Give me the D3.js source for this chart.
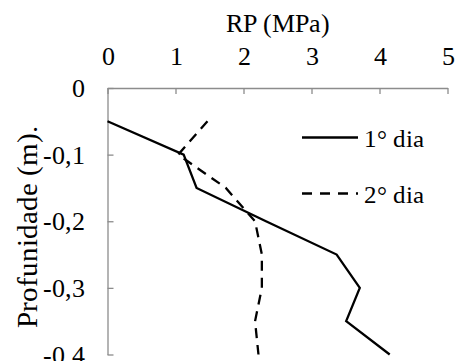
<!DOCTYPE html>
<html><head><meta charset="utf-8">
<script src="https://cdn.jsdelivr.net/npm/d3@7"></script>
<style>
@font-face { font-family: 'ChartSerif'; src: local('Liberation Serif'), local('LiberationSerif'), local('Liberation Serif Regular'), local('LiberationSerif-Regular'); }
body { margin: 0; font-family: 'ChartSerif', 'Liberation Serif', 'Times New Roman', serif; }
</style>
</head><body><div id="chart"></div>
<script>
const depths = [-0.05, -0.1, -0.15, -0.2, -0.25, -0.3, -0.35, -0.4];
const dia1 = [0, 1.12, 1.31, 2.33, 3.37, 3.71, 3.51, 4.15];
const dia2 = [1.47, 1.04, 1.74, 2.17, 2.27, 2.27, 2.17, 2.22];
const xTicks = [0, 1, 2, 3, 4, 5];
const yTicks = [0, -0.1, -0.2, -0.3, -0.4];
const seriesNames = ["1° dia", "2° dia"];

const FF = "'ChartSerif', 'Liberation Serif', 'Times New Roman', serif";
const W = 455, H = 361;
const svg = d3.select("#chart").append("svg").attr("width", W).attr("height", H)
  .style("display", "block").style("font-family", FF);
const x = d3.scaleLinear().domain([0, 5]).range([107.5, 447.5]);
const y = d3.scaleLinear().domain([0, -0.4]).range([88, 354.5]);
const axisColor = "#8c8c8c";
const serif = sel => sel.style("font-family", FF);

// titles
svg.append("text").attr("x", 278).attr("y", 32).attr("text-anchor", "middle")
  .call(serif).attr("font-size", 26).text("RP (MPa)");
svg.append("text").attr("transform", "translate(37,227) rotate(-90)").attr("text-anchor", "middle")
  .call(serif).attr("font-size", 29).text("Profunidade (m).");

// top axis
const xAxis = svg.append("g").attr("transform", `translate(0,${y(0)})`)
  .call(d3.axisTop(x).tickValues(xTicks).tickSizeInner(-6).tickSizeOuter(0).tickFormat(d3.format("d")));
xAxis.attr("font-family", null).attr("font-size", null);
xAxis.select(".domain").attr("stroke", axisColor).attr("stroke-width", 1.3);
xAxis.selectAll(".tick line").attr("stroke", axisColor).attr("stroke-width", 1.3);
xAxis.selectAll(".tick text").call(serif).attr("font-size", 26).attr("fill", "#000")
  .attr("y", -23).attr("dy", 0);

// left axis
const fmtY = d => d === 0 ? "0" : d3.format(".1f")(d).replace(".", ",").replace("−", "-");
const yAxis = svg.append("g").attr("transform", `translate(${x(0)},0)`)
  .call(d3.axisLeft(y).tickValues(yTicks).tickSizeInner(-6).tickSizeOuter(0).tickFormat(fmtY));
yAxis.attr("font-family", null).attr("font-size", null);
yAxis.select(".domain").attr("stroke", axisColor).attr("stroke-width", 1.3);
yAxis.selectAll(".tick line").attr("stroke", axisColor).attr("stroke-width", 1.3);
yAxis.selectAll(".tick text").call(serif).attr("font-size", 26).attr("fill", "#000")
  .attr("x", -23).attr("dy", "0.33em");

// lines
const line = d3.line().x(d => x(d[0])).y(d => y(d[1]));
svg.append("path").datum(dia1.map((v, i) => [v, depths[i]]))
  .attr("d", line).attr("fill", "none").attr("stroke", "#000").attr("stroke-width", 2.3)
  .attr("stroke-linejoin", "miter");
svg.append("path").datum(dia2.map((v, i) => [v, depths[i]]))
  .attr("d", line).attr("fill", "none").attr("stroke", "#000").attr("stroke-width", 2.3)
  .attr("stroke-dasharray", "10,7");

// legend
const leg = svg.append("g");
[[137.5, null], [193.5, "10,8"]].forEach((cfg, i) => {
  const l = leg.append("line").attr("x1", 302).attr("x2", 358).attr("y1", cfg[0]).attr("y2", cfg[0])
    .attr("stroke", "#000").attr("stroke-width", 2.3);
  if (cfg[1]) l.attr("stroke-dasharray", cfg[1]);
  leg.append("text").attr("x", 364).attr("y", cfg[0] + 9)
    .call(serif).attr("font-size", 25).text(seriesNames[i]);
});
</script></body></html>
